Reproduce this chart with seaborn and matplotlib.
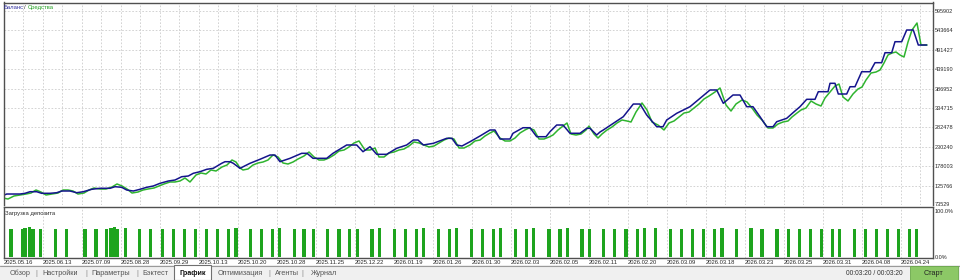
import numpy as np
import matplotlib
matplotlib.use("Agg")
import matplotlib.pyplot as plt
import seaborn as sns
from matplotlib.transforms import Bbox, TransformedBbox
from matplotlib.patches import Rectangle
from matplotlib.lines import Line2D

# ---------------- data ----------------
balance_pos = [2.7, 6.7, 20, 25, 30, 36.7, 41.7, 50, 56.7, 61.7,
               70, 76.7, 83.3, 91.7, 100, 110, 115, 121.7, 126.7, 133.3,
               140, 146.7, 153.3, 160, 168.3, 175, 181.7, 188.3, 193.3, 200,
               206.7, 213.3, 221.7, 225, 230, 233.3, 240, 250, 260, 270,
               275, 280, 290, 301.7, 307, 313, 326.7, 333, 346.7, 356.7,
               363, 370, 376.7, 386.7, 396.7, 406.7, 413.3, 418, 423.3, 433.3,
               446.7, 452, 456.7, 462, 470, 480, 490, 495, 500, 510,
               513, 523, 530, 536.7, 546, 550, 556.7, 563, 570, 580,
               586.7, 590, 596.7, 600, 603.3, 613.3, 623.3, 633.3, 640, 646.7,
               656.7, 663, 666.7, 676.7, 690, 700, 710, 716.7, 723.3, 733,
               740, 746.7, 753, 760, 766.7, 773, 776.7, 786.7, 793, 800,
               806.7, 815, 818.3, 828, 830, 835, 838.3, 846.7, 850, 855,
               861.7, 870, 875, 881.7, 885, 891.7, 895, 901.7, 906.7, 913.3,
               918.3, 926.7]
balance = [98600, 103100, 103100, 105000, 109300, 109300, 105000, 105000, 106600, 111200,
           111200, 106600, 109300, 115800, 118500, 118500, 122800, 121200, 113900, 111200,
           115800, 121200, 124700, 131900, 138100, 140800, 149700, 151600, 158900, 163200,
           169600, 172300, 185800, 190100, 190100, 185800, 172300, 185800, 196600, 208100,
           208100, 190100, 199200, 212700, 212700, 199200, 199200, 212700, 235100, 235100,
           217000, 230500, 210000, 210000, 226200, 235100, 248500, 248500, 235100, 239600,
           253100, 253100, 235100, 232400, 243900, 259300, 275500, 275500, 251200, 251200,
           266600, 281600, 281600, 257400, 257400, 270900, 288900, 288900, 266600, 266600,
           280000, 280000, 262000, 270100, 275500, 293500, 311300, 345400, 345400, 315900,
           284300, 284300, 302400, 320400, 338200, 360800, 383200, 383200, 347300, 369700,
           369700, 338200, 338200, 311300, 284300, 284300, 297800, 306900, 322000, 338200,
           358100, 358100, 378600, 378600, 401200, 401200, 372400, 372400, 392000, 392000,
           432400, 432400, 456700, 456700, 483600, 483600, 513200, 513200, 544700, 544700,
           504300, 504300]

equity_pos = [3, 8, 14, 20, 26, 31, 36, 41, 46, 52,
              58, 63, 68, 73, 78, 84, 89, 94, 100, 106,
              112, 117, 122, 127, 132, 138, 143, 148, 154, 159,
              164, 170, 175, 180, 185, 190, 196, 201, 206, 211,
              216, 222, 227, 232, 236, 240, 243, 248, 253, 258,
              263, 268, 273, 278, 283, 288, 293, 298, 304, 309,
              314, 319, 324, 329, 334, 339, 344, 349, 354, 359,
              365, 370, 375, 379, 384, 389, 394, 399, 404, 409,
              414, 419, 424, 429, 434, 439, 444, 449, 454, 459,
              464, 470, 475, 480, 485, 490, 494, 500, 505, 510,
              515, 520, 525, 529, 534, 539, 544, 549, 553, 558,
              563, 567, 571, 576, 581, 586, 589, 594, 598, 602,
              607, 612, 617, 622, 627, 631, 636, 642, 647, 652,
              658, 664, 669, 674, 679, 684, 689, 694, 699, 704,
              709, 715, 720, 726, 731, 736, 742, 747, 752, 757,
              762, 768, 773, 778, 783, 788, 792, 797, 801, 806,
              811, 816, 821, 825, 830, 835, 839, 843, 848, 853,
              858, 862, 866, 871, 876, 880, 884, 888, 892, 896,
              900, 904, 908, 912, 917, 921, 927]
equity = [92400, 89700, 97800, 100500, 103100, 105800, 113900, 108500, 100500, 103100,
          105800, 113900, 113900, 111200, 103100, 105800, 113900, 119300, 116600, 116600,
          122000, 130100, 124700, 116600, 105800, 108500, 113900, 116600, 119300, 124700,
          130100, 135500, 135500, 138200, 146200, 135500, 154300, 159700, 157000, 167800,
          165100, 175900, 181200, 194700, 189300, 173200, 167800, 170500, 181200, 186600,
          189300, 194700, 208200, 202800, 186600, 183900, 189300, 197400, 205500, 216200,
          202800, 194700, 194700, 200100, 208200, 218900, 221600, 229700, 240500, 245900,
          221600, 221600, 227000, 202800, 202800, 213500, 216200, 221600, 224300, 232400,
          243200, 240500, 235100, 229700, 232400, 240500, 248500, 253900, 251200, 227000,
          227000, 235100, 245900, 248500, 259300, 267400, 272800, 253900, 245900, 245900,
          253900, 267400, 275500, 280900, 275500, 251200, 251200, 256600, 262000, 275500,
          286200, 294300, 264700, 262000, 264700, 275500, 286200, 264700, 253900, 264700,
          275500, 283600, 294300, 302400, 299700, 297000, 323900, 348200, 329300, 297000,
          288900, 275500, 294300, 299700, 310500, 321200, 323900, 334700, 345500, 358900,
          367000, 377800, 388600, 342800, 326600, 345500, 356300, 350900, 334700, 315900,
          302400, 280900, 280900, 291600, 297000, 299700, 310500, 321200, 329300, 334700,
          353600, 345500, 340100, 361600, 377800, 393900, 399300, 364300, 353600, 372400,
          385900, 391200, 410100, 428900, 431600, 437000, 455900, 477400, 482800, 485500,
          477400, 472000, 512400, 544700, 563600, 504300, 504300]

load_pos = [11, 22.3, 25, 29.3, 33, 40.3, 55.3, 66.3, 85, 96,
            106.7, 111, 114.3, 117.7, 125.3, 139.7, 150.3, 162.3, 173.3, 184.3,
            195.3, 206.3, 217.3, 228.3, 236, 250.3, 261.3, 272.3, 279.7, 294.3,
            304, 313.3, 327.7, 339, 349.3, 357.3, 372, 379.3, 394.3, 405.7,
            416.3, 423.3, 438.3, 449.3, 456.7, 471.3, 482.3, 493.3, 500.7, 515.7,
            526.3, 533.7, 549, 560, 567.3, 582, 589.3, 603.7, 614.7, 626,
            637.3, 644.3, 655.3, 670.3, 681.3, 692.3, 703.3, 714.3, 722, 736.3,
            751, 762, 777, 788.3, 799.3, 810.3, 821.3, 832.3, 839.3, 854.3,
            865.7, 876.7, 887.7, 898.7, 909.3, 916.7]
load_pct = [60, 60, 62, 65.5, 60, 60, 60, 60, 60, 60,
            60, 62, 64, 60, 62.5, 60, 60, 60, 60, 60,
            60, 60, 60, 60, 62.5, 60, 60, 60, 62.5, 60,
            60, 60, 60, 60, 60, 61.5, 60, 62.5, 60, 60,
            60, 62.5, 60, 60, 62.5, 60, 60, 60, 62.5, 60,
            60, 62.5, 60, 60, 62.5, 60, 60, 60, 60, 60,
            60, 62.5, 62.5, 60, 60, 60, 60, 60, 62.5, 60,
            62.5, 60, 60, 60, 60, 60, 60, 60, 61.5, 60,
            60, 60, 60, 60, 61, 61]

date_labels = ["2025.05.16", "2025.06.13", "2025.07.09", "2025.08.28", "2025.09.29",
               "2025.10.13", "2025.10.20", "2025.10.28", "2025.11.25", "2025.12.22",
               "2026.01.19", "2026.01.26", "2026.01.30", "2026.02.03", "2026.02.05",
               "2026.02.11", "2026.02.20", "2026.03.09", "2026.03.18", "2026.03.23",
               "2026.03.25", "2026.03.31", "2026.04.08", "2026.04.24"]
y_tick_values = [73529, 125766, 178003, 230240, 282478, 334715,
                 386952, 439190, 491427, 543664, 595902]
load_ticks = [0, 100]
load_tick_labels = ["0.0%", "100.0%"]
tabs = ["Обзор", "Настройки", "Параметры", "Бэктест", "График",
        "Оптимизация", "Агенты", "Журнал"]
legend_balance = "Баланс"
legend_equity = "Средства"
load_title = "Загрузка депозита"
time_text = "00:03:20 / 00:03:20"
start_text = "Старт"

# ---------------- style ----------------
sns.set_theme(style="white")
plt.rcParams['font.family'] = ['Liberation Sans', 'DejaVu Sans']

BLUE = "#14148c"
GREEN = "#2fb42f"
BAR = "#1ea41e"
GRID = "#c8c8c8"
FRAME = "#505050"
TXT = "#2a2a2a"

W, H = 960, 280
fig = plt.figure(figsize=(9.6, 2.8), dpi=100, facecolor="white")


def px_axes(x0, y0, x1, y1):
    return fig.add_axes([x0 / W, 1 - y1 / H, (x1 - x0) / W, (y1 - y0) / H])


XL, XR = 3.7, 932.5
ax = px_axes(XL, 2.5, XR, 205)
ax2 = px_axes(XL, 207, XR, 257.5)

# ---- main chart ----
sns.lineplot(x=equity_pos, y=equity, ax=ax, color=GREEN, lw=1.1,
             sort=False, estimator=None)
sns.lineplot(x=balance_pos, y=balance, ax=ax, color=BLUE, lw=1.1,
             sort=False, estimator=None)
ax.set_xlim(XL, XR)
ax.set_ylim(73529, 618780)
ax.set_xticks(np.arange(XL + 19.5, XR, 19.5))
ax.set_xticklabels([])
ax.set_yticks(y_tick_values[1:])
ax.set_yticklabels([str(v) for v in y_tick_values[1:]])
ax.yaxis.tick_right()
ax.tick_params(axis='y', length=0, pad=1.8, labelsize=4.0, labelcolor=TXT)
ax.tick_params(axis='x', length=0)
ax.grid(True, color=GRID, lw=0.55, ls=(0, (2.2, 2.2)))
ax.set_xlabel("")
ax.set_ylabel("")
for s in ["left", "top", "right"]:
    ax.spines[s].set_color(FRAME)
    ax.spines[s].set_linewidth(1.0)
ax.spines["bottom"].set_visible(False)

# clipped bottom label of main chart
t = fig.text(935 / W, 1 - 204.7 / H, str(y_tick_values[0]), fontsize=4.0,
             color=TXT, va="center", ha="left")
t.set_clip_box(TransformedBbox(Bbox([[0, 1 - 206.2 / H], [1, 1]]), fig.transFigure))
t.set_clip_on(True)

# ---- deposit load ----
ax2.bar(load_pos, load_pct, width=3.4, color=BAR, edgecolor="none")
ax2.set_xlim(XL, XR)
ax2.set_ylim(-1.75, 108.75)
ax2.set_xticks(np.arange(XL, XR, 39)[:len(date_labels)])
ax2.set_xticklabels(date_labels, ha="left")
ax2.set_yticks(load_ticks)
ax2.set_yticklabels(load_tick_labels)
ax2.yaxis.tick_right()
ax2.tick_params(axis='y', length=0, pad=1.8, labelsize=4.0, labelcolor=TXT)
ax2.tick_params(axis='x', length=0, pad=1.5, labelsize=4.2, labelcolor=TXT)
ax2.grid(True, axis='x', color=GRID, lw=0.55, ls=(0, (2.2, 2.2)))
ax2.grid(False, axis='y')
for s in ["left", "top", "right", "bottom"]:
    ax2.spines[s].set_color(FRAME)
    ax2.spines[s].set_linewidth(1.0)

# ---- texts in charts ----
fig.text(4 / W, 1 - 7.5 / H, legend_balance, fontsize=4.2, color="#3030a0", va="center")
fig.text(24 / W, 1 - 7.5 / H, "/", fontsize=4.2, color=TXT, va="center")
fig.text(28 / W, 1 - 7.5 / H, legend_equity, fontsize=4.2, color="#20a020", va="center")
fig.text(5 / W, 1 - 213.3 / H, load_title, fontsize=4.2, color=TXT, va="center")

# ---- bottom tab strip ----
fig.patches.append(Rectangle((0, 0), 1, 15 / H, transform=fig.transFigure,
                             facecolor="#f0f0f0", edgecolor="none", zorder=0))
fig.lines.append(Line2D([0, 1], [1 - 265.5 / H] * 2, transform=fig.transFigure,
                        color="#9a9a9a", lw=0.8))
fig.patches.append(Rectangle((174 / W, 0), 37 / W, 15.5 / H, transform=fig.transFigure,
                             facecolor="white", edgecolor="#707070", lw=0.8, zorder=2))
tab_x = [10, 42.7, 91.7, 142.3, 179, 217.3, 275, 311]
for name, x in zip(tabs, tab_x):
    sel = name == "График"
    fig.text(x / W, 1 - 273.3 / H, name, fontsize=5.2,
             color="#111111" if sel else "#555555",
             fontweight="bold" if sel else "normal", va="center", zorder=3)
for x in [35.7, 85, 136, 268.3, 301.7]:
    fig.text(x / W, 1 - 273.3 / H, "|", fontsize=5.2, color="#888888", va="center")

fig.text(846 / W, 1 - 273.3 / H, time_text, fontsize=4.8, color="#333333", va="center")
fig.patches.append(Rectangle((910 / W, 0), 48 / W, 14 / H, transform=fig.transFigure,
                             facecolor="#8cc866", edgecolor="#6aa84a", lw=0.6, zorder=2))
fig.text(934 / W, 1 - 273.3 / H, start_text, fontsize=5.2, color="#222222",
         va="center", ha="center", zorder=3)

fig.savefig("out.png", dpi=100, facecolor="white")
